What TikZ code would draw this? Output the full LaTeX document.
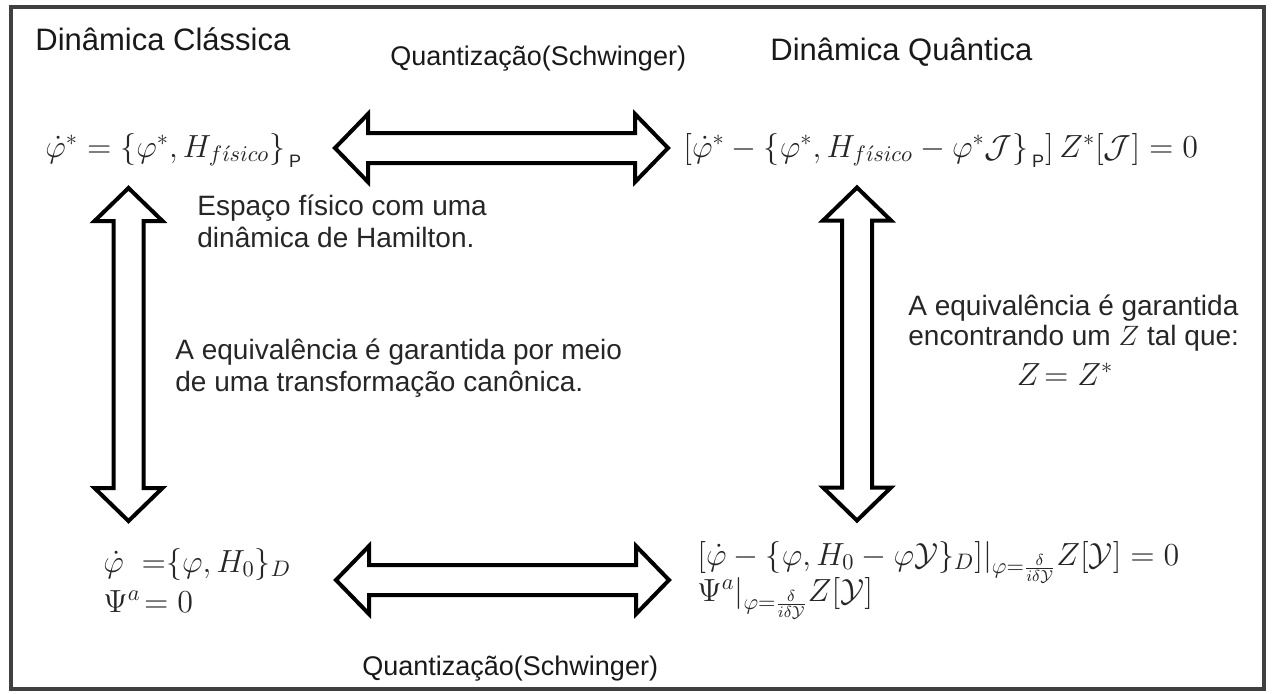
\documentclass[tikz,border=0pt]{standalone}
\usepackage{fix-cm}
\usepackage{amsmath}
\usepackage{fontspec}
\setmainfont{Liberation Sans}
\begin{document}
\begin{tikzpicture}[x=0.5pt,y=-0.5pt,
  txt/.style={inner sep=0pt, anchor=base west, text=black!85, font=\fontsize{14}{16}\selectfont},
  ttl/.style={inner sep=0pt, anchor=base west, text=black!90, font=\fontsize{15.5}{18}\selectfont},
  qz/.style={inner sep=0pt, anchor=base west, text=black!90, font=\fontsize{13.5}{16}\selectfont},
  eq/.style={inner sep=0pt, anchor=base west, text=black!85, font=\fontsize{16}{19}\selectfont},
  blockarrow/.style={draw=black, line width=2pt, fill=white, line join=miter},
  frame/.style={draw=black!75, line width=1.6pt},
  dblarrow/.pic={
    \path[blockarrow] (-166.5,0) -- (-133.5,34) -- (-133.5,15) -- (133.5,15) -- (133.5,34)
      -- (166.5,0) -- (133.5,-34) -- (133.5,-15) -- (-133.5,-15) -- (-133.5,-34) -- cycle;
  }]
\useasboundingbox[fill=white] (0,0) rectangle (1277,693);
\draw[frame] (11,7) rectangle (1264,689);

% titles
\node[ttl] (tc) at (35,50) {Dinâmica Clássica};
\node[ttl] (tq) at (770,60) {Dinâmica Quântica};
\node[qz] (q1) at (390,65) {Quantização(Schwinger)};
\node[qz] (q2) at (362,675) {Quantização(Schwinger)};

% equations
\newcommand{\Pb}{\,\raisebox{-3pt}{\fontsize{9}{9}\selectfont P}}
\node[eq] (e1) at (45,157) {$\dot\varphi^* = \{\varphi^*, H_{f\acute\imath sico}\}_{\Pb}$};
\node[eq] (e2) at (683,157) {$[\dot\varphi^* - \{\varphi^*, H_{f\acute\imath sico} - \varphi^*\mathcal{J}\}_{\Pb}]\, Z^*[\mathcal{J}] = 0$};
\node[eq] (e3) at (103,572) {$\dot\varphi\;\;{=}\{\varphi, H_0\}_D$};
\node[eq] (e3b) at (103,612) {$\Psi^a\!= 0$};
\node[eq] (e4) at (697,565) {$[\dot\varphi - \{\varphi, H_0 - \varphi\mathcal{Y}\}_D]|_{\varphi=\frac{\delta}{i\delta\mathcal{Y}}} Z[\mathcal{Y}] = 0$};
\node[eq] (e4b) at (697,601) {$\Psi^a|_{\varphi=\frac{\delta}{i\delta\mathcal{Y}}} Z[\mathcal{Y}]$};

% notes
\node[txt] (n1) at (197,215) {Espaço físico com uma};
\node[txt] (n1b) at (197,247) {dinâmica de Hamilton.};
\node[txt] (n2) at (175,359) {A equivalência é garantida por meio};
\node[txt] (n2b) at (175,391) {de uma transformação canônica.};
\node[txt] (n3) at (908,315) {A equivalência é garantida};
\node[txt] (n3b) at (908,345) {encontrando um $Z$ tal que:};
\node[eq, anchor=base] (n3c) at (1065,385) {$Z\!= Z^*$};

% block arrows
\pic at (501.5,148) {dblarrow};
\pic at (502.5,580) {dblarrow};
\pic[rotate=90] at (128.5,354.5) {dblarrow};
\pic[rotate=90] at (857,354) {dblarrow};
\end{tikzpicture}
\end{document}
